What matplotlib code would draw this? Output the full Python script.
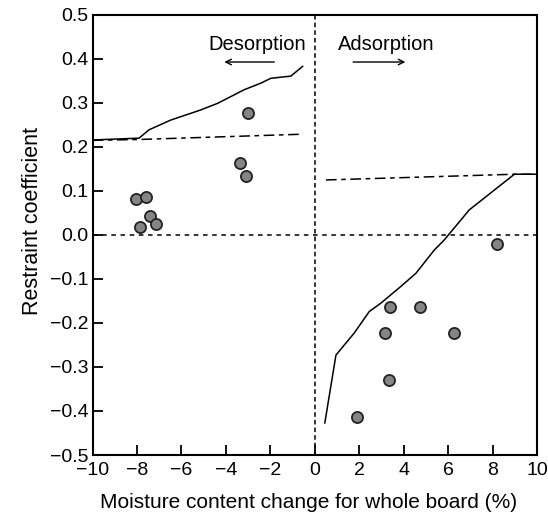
import matplotlib

matplotlib.use("Agg")

import matplotlib.pyplot as plt

plt.rcParams["font.family"] = ["Liberation Sans", "DejaVu Sans"]

# measured restraint coefficients
des_x = [-8.06, -7.58, -7.88, -7.42, -7.13, -3.36, -3.11, -3.02]
des_y = [0.081, 0.087, 0.017, 0.043, 0.025, 0.163, 0.133, 0.277]
ads_x = [3.39, 4.73, 3.17, 6.25, 3.32, 1.89, 8.18]
ads_y = [-0.164, -0.164, -0.222, -0.222, -0.330, -0.414, -0.021]

# predicted curves (solid) and limits (dash-dot), desorption side
des_line_x = [-9.95, -7.91, -7.46, -6.49, -5.14, -4.38, -3.18, -2.43, -1.98, -1.08, -0.55]
des_line_y = [0.216, 0.220, 0.239, 0.261, 0.284, 0.299, 0.330, 0.345, 0.356, 0.361, 0.383]
des_lim_x = [-10.0, -7.9, -0.55]
des_lim_y = [0.215, 0.217, 0.229]

# adsorption side
ads_line_x = [0.45, 0.95, 1.77, 2.45, 2.97, 3.87, 4.55, 5.38, 5.83, 6.95, 8.98, 10.0]
ads_line_y = [-0.427, -0.273, -0.223, -0.174, -0.155, -0.117, -0.087, -0.034, -0.011, 0.057, 0.138, 0.138]
ads_lim_x = [0.5, 8.98, 10.0]
ads_lim_y = [0.125, 0.138, 0.138]

x_ticks = [-10, -8, -6, -4, -2, 0, 2, 4, 6, 8, 10]
y_ticks = [-0.5, -0.4, -0.3, -0.2, -0.1, 0.0, 0.1, 0.2, 0.3, 0.4, 0.5]

fig = plt.figure(figsize=(5.48, 5.15), dpi=100)
ax = fig.add_axes([0.169, 0.1165, 0.811, 0.8545])

ax.axhline(0, color="black", lw=1.1, ls=(0, (3, 3)))
ax.axvline(0, color="black", lw=1.1, ls=(0, (3, 2)))

ax.plot(des_line_x, des_line_y, color="black", lw=1.1)
ax.plot(des_lim_x, des_lim_y, color="black", lw=1.1, dashes=(7, 3, 3, 3))
ax.plot(ads_line_x, ads_line_y, color="black", lw=1.1)
ax.plot(ads_lim_x, ads_lim_y, color="black", lw=1.1, dashes=(7, 3, 3, 3))

ax.scatter(des_x, des_y, s=64, color="#858585", edgecolor="#222222", linewidth=1.3, zorder=3)
ax.scatter(ads_x, ads_y, s=64, color="#858585", edgecolor="#222222", linewidth=1.3, zorder=3)

ax.text(-2.6, 0.433, "Desorption", fontsize=14.5, ha="center", va="center")
ax.annotate("", xy=(-4.2, 0.393), xytext=(-1.7, 0.393),
            arrowprops=dict(arrowstyle="->", color="black", lw=1.0))
ax.text(1.05, 0.433, "Adsorption", fontsize=14.5, ha="left", va="center")
ax.annotate("", xy=(4.2, 0.393), xytext=(1.6, 0.393),
            arrowprops=dict(arrowstyle="->", color="black", lw=1.0))

ax.set_xlim(-10, 10)
ax.set_ylim(-0.5, 0.5)
ax.set_xticks(x_ticks)
ax.set_yticks(y_ticks)
ax.set_yticklabels([f"{v:.1f}".replace("-", "\u2212") for v in y_ticks])
ax.tick_params(direction="in", length=7, width=1.3, labelsize=14)
ax.tick_params(axis="x", pad=5)
ax.tick_params(axis="y", pad=3)
for s in ax.spines.values():
    s.set_linewidth(1.5)

ax.set_xlabel("Moisture content change for whole board (%)", fontsize=15, labelpad=10)
ax.xaxis.label.set_x(0.486)
ax.set_ylabel("Restraint coefficient", fontsize=15.5, labelpad=5)
ax.yaxis.label.set_y(0.532)

fig.savefig("out.png", dpi=100)
